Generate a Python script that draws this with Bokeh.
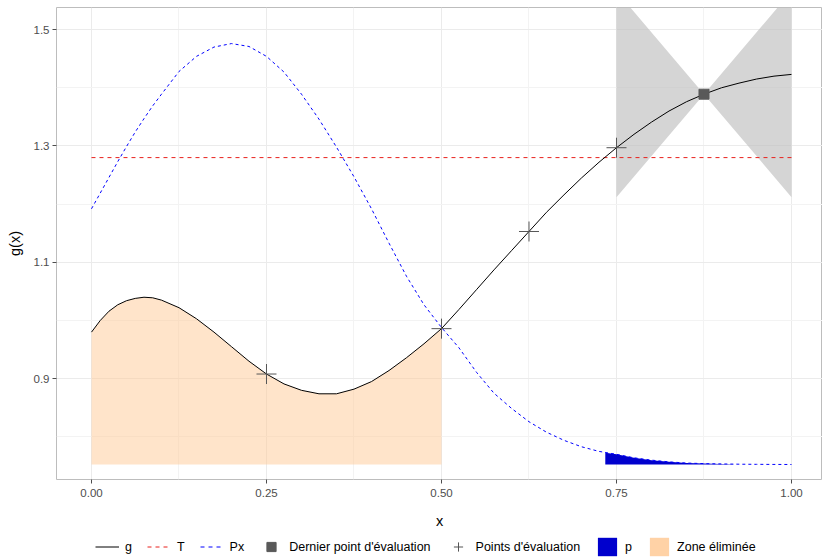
from bokeh.plotting import figure
from bokeh.layouts import column
from bokeh.models import (FixedTicker, NumeralTickFormatter, Legend, LegendItem, Range1d)
from bokeh.embed import file_html
from bokeh.resources import INLINE

# ---- data ----
x_grid = [0.000, 0.0125, 0.025, 0.0375, 0.050, 0.0625, 0.075, 0.0875, 0.100, 0.125, 0.150, 0.175, 0.200, 0.225,
          0.250, 0.275, 0.300, 0.325, 0.350, 0.375, 0.400, 0.425, 0.450, 0.475,
          0.500, 0.525, 0.550, 0.575, 0.600, 0.625, 0.650, 0.675, 0.700, 0.725,
          0.750, 0.775, 0.800, 0.825, 0.850, 0.875, 0.900, 0.925, 0.950, 0.975, 1.000]
g_vals = [0.980, 1.000, 1.016, 1.027, 1.034, 1.038, 1.040, 1.039, 1.035, 1.022, 1.003, 0.980, 0.955, 0.930,
          0.908, 0.891, 0.880, 0.874, 0.874, 0.882, 0.895, 0.914, 0.936, 0.960,
          0.986, 1.019, 1.053, 1.087, 1.120, 1.153, 1.186, 1.216, 1.245, 1.272,
          1.297, 1.320, 1.341, 1.360, 1.376, 1.389, 1.400, 1.408, 1.415, 1.420, 1.423]
px_vals = [1.192, 1.219, 1.246, 1.273, 1.299, 1.324, 1.347, 1.369, 1.389, 1.428, 1.454, 1.470, 1.476, 1.471,
           1.454, 1.427, 1.389, 1.346, 1.298, 1.247, 1.192, 1.133, 1.076, 1.027,
           0.988, 0.953, 0.911, 0.875, 0.849, 0.826, 0.808, 0.794, 0.783, 0.775,
           0.770, 0.764, 0.760, 0.757, 0.755, 0.754, 0.7535, 0.753, 0.7528, 0.7526, 0.7525]
T_x = [0.0, 1.0]
T_vals = [1.28, 1.28]

eval_x = [0.25, 0.5, 0.625, 0.75]
eval_y = [0.908, 0.986, 1.153, 1.297]
last_x = [0.875]
last_y = [1.389]

wedge_x = [0.75, 0.875, 1.0]
wedge_low = [1.212, 1.389, 1.212]
wedge_high = [1.566, 1.389, 1.566]

p_x = [0.734, 0.750, 0.775, 0.800, 0.825, 0.850, 0.875, 0.900, 0.917]
p_top = [0.7726, 0.770, 0.764, 0.760, 0.757, 0.755, 0.754, 0.7535, 0.753]
base_level = 0.7525
zone_end = 0.5

x_ticks = [0.0, 0.25, 0.5, 0.75, 1.0]
x_minor = [-0.125, 0.125, 0.375, 0.625, 0.875]
y_ticks = [0.9, 1.1, 1.3, 1.5]
y_minor = [0.8, 1.0, 1.2, 1.4]

legend_labels = ["g", "T", "Px", "Dernier point d'évaluation", "Points d'évaluation",
                 "p", "Zone éliminée"]

FONT = "Liberation Sans"
C_G, C_T, C_PX = "#000000", "#E8201C", "#0000FF"
C_PTS, C_LAST, C_P, C_ZONE = "#555555", "#595959", "#0000CD", "#FFCA96"

p = figure(frame_width=766, frame_height=472, output_backend="svg", toolbar_location=None,
           x_range=Range1d(-0.05, 1.0443), y_range=Range1d(0.7267, 1.538),
           min_border_left=56, min_border_right=0, min_border_top=7, min_border_bottom=55)
p.background_fill_color = "white"
p.outline_line_color = "#BDBDBD"
p.outline_line_width = 1

# grids / axes
p.xaxis.ticker = FixedTicker(ticks=x_ticks, minor_ticks=x_minor)
p.yaxis.ticker = FixedTicker(ticks=y_ticks, minor_ticks=y_minor)
p.xaxis.formatter = NumeralTickFormatter(format="0.00")
p.yaxis.formatter = NumeralTickFormatter(format="0.0")
for ax in (p.xaxis, p.yaxis):
    ax.axis_line_color = None
    ax.major_tick_line_color = "#4D4D4D"
    ax.major_tick_out = 4
    ax.major_tick_in = 0
    ax.minor_tick_line_color = None
    ax.major_label_text_font = FONT
    ax.major_label_text_font_size = "11.5px"
    ax.major_label_text_color = "#4D4D4D"
    ax.axis_label_text_font = FONT
    ax.axis_label_text_font_size = "14.5px"
    ax.axis_label_text_font_style = "normal"
    ax.axis_label_text_color = "#000000"
p.xaxis.axis_label = "x"
p.yaxis.axis_label = "g(x)"
p.xaxis.major_label_standoff = 5
p.yaxis.major_label_standoff = 3
p.xaxis.axis_label_standoff = 13
p.yaxis.axis_label_standoff = 8
p.grid.grid_line_color = "#EBEBEB"
p.grid.grid_line_width = 1
p.grid.minor_grid_line_color = "#F3F3F3"
p.grid.minor_grid_line_width = 1

# zone éliminée
n_zone = sum(1 for v in x_grid if v <= zone_end)
p.varea(x=x_grid[:n_zone], y1=[base_level] * n_zone, y2=g_vals[:n_zone],
        fill_color=C_ZONE, fill_alpha=0.5)
# gray wedge
p.varea(x=wedge_x, y1=wedge_low, y2=wedge_high, fill_color="#BEBEBE", fill_alpha=0.65)
# p area
p.varea(x=p_x, y1=[base_level] * len(p_x), y2=p_top, fill_color=C_P, fill_alpha=1.0)
# lines
p.line(T_x, T_vals, line_color=C_T, line_dash="4 4", line_width=1)
p.line(x_grid, px_vals, line_color=C_PX, line_dash="3 3", line_width=1)
p.line(x_grid, g_vals, line_color=C_G, line_width=1)
# points
p.scatter(eval_x, eval_y, marker="cross", size=20, line_color=C_PTS, line_width=1)
p.scatter(last_x, last_y, marker="square", size=10, fill_color=C_LAST, line_color=C_LAST)

# ---- legend strip (separate figure below the plot) ----
lf = figure(width=825, height=25, output_backend="svg", toolbar_location=None,
            x_range=Range1d(0, 1), y_range=Range1d(0, 1),
            x_axis_location=None, y_axis_location=None,
            min_border=0, outline_line_color=None)
lf.grid.visible = False
off = [5.0, 6.0]
r_g = lf.line(off, off, line_color=C_G, line_width=1)
r_t = lf.line(off, off, line_color=C_T, line_dash="4 4", line_width=1)
r_px = lf.line(off, off, line_color=C_PX, line_dash="4 4", line_width=1)
r_last = lf.scatter(off, off, marker="square", size=10, fill_color=C_LAST, line_color=C_LAST)
r_pts = lf.scatter(off, off, marker="cross", size=23, line_color=C_PTS, line_width=1)
r_p = lf.varea(x=off, y1=off, y2=off, fill_color=C_P, fill_alpha=1.0)
r_zone = lf.varea(x=off, y1=off, y2=off, fill_color=C_ZONE, fill_alpha=0.85)
rends = [r_g, r_t, r_px, r_last, r_pts, r_p, r_zone]

legend = Legend(items=[LegendItem(label=lab, renderers=[r]) for lab, r in zip(legend_labels, rends)],
                orientation="horizontal", location=(39, 1))
legend.label_text_font = FONT
legend.label_text_font_size = "12.5px"
legend.label_text_color = "#000000"
legend.glyph_width = 24
legend.glyph_height = 23
legend.label_width = 0
legend.label_standoff = 6
legend.spacing = 15
legend.padding = 0
legend.margin = 0
legend.border_line_color = None
legend.background_fill_alpha = 0
lf.add_layout(legend)

layout = column(p, lf, spacing=0)
open("out.html", "w").write(file_html(layout, INLINE))
